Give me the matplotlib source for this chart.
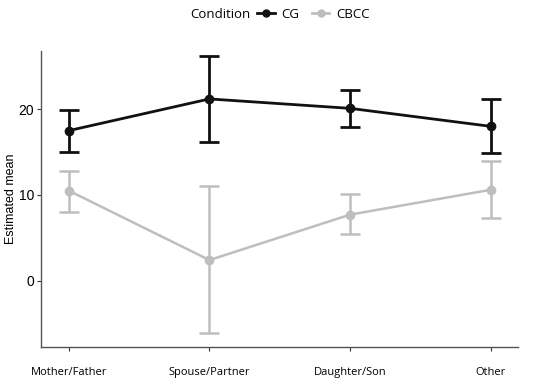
import numpy as np
import matplotlib
matplotlib.use('Agg')
import matplotlib.pyplot as plt
from matplotlib.lines import Line2D

categories = ['Mother/Father', 'Spouse/Partner', 'Daughter/Son', 'Other']

cg_mean = [17.5, 21.2, 20.1, 18.0]
cg_low = [15.0, 16.2, 17.9, 14.9]
cg_high = [19.9, 26.2, 22.3, 21.2]

cbcc_mean = [10.5, 2.4, 7.7, 10.6]
cbcc_low = [8.0, -6.1, 5.4, 7.3]
cbcc_high = [12.8, 11.0, 10.1, 14.0]

fig = plt.figure(figsize=(5.5, 3.83), dpi=100)
ax = fig.add_axes([0.0745, 0.095, 0.8675, 0.772])

x = np.arange(1, len(categories) + 1)
ui_font = 'Open Sans'

def draw(mean, low, high, color, lw):
    mean = np.array(mean)
    yerr = [mean - np.array(low), np.array(high) - mean]
    ax.errorbar(x, mean, yerr=yerr, color=color, lw=lw, elinewidth=lw,
                capsize=7.5, capthick=lw, marker='o', ms=6, zorder=3)

draw(cbcc_mean, cbcc_low, cbcc_high, '#bebebe', 1.8)
draw(cg_mean, cg_low, cg_high, '#111111', 2.0)

ax.set_xlim(0.803, 4.194)
ax.set_ylim(-7.7, 26.8)
ax.set_xticks(x)
ax.set_xticklabels(categories, family=ui_font, fontsize=8)
ax.set_yticks([0, 10, 20])
ax.set_yticklabels(['0', '10', '20'], family='Liberation Sans', fontsize=10)
ax.set_ylabel('Estimated mean', family='Liberation Sans', fontsize=9, labelpad=1)
ax.tick_params(axis='x', length=3, color='#333333', pad=12)
ax.tick_params(axis='y', length=3, color='#333333', pad=2)

for s in ['top', 'right']:
    ax.spines[s].set_visible(False)
for s in ['left', 'bottom']:
    ax.spines[s].set_color('#555555')
    ax.spines[s].set_linewidth(1.0)

# legend on top: title as text, entries as a legend beside it
fig.text(0.455, 0.962, 'Condition', family=ui_font, fontsize=9.5,
         ha='right', va='center')
handles = [
    Line2D([], [], color='#111111', lw=2, marker='o', ms=5),
    Line2D([], [], color='#bebebe', lw=2, marker='o', ms=5),
]
fig.legend(handles, ['CG', 'CBCC'], loc='center left',
           bbox_to_anchor=(0.468, 0.962), ncol=2, frameon=False,
           handlelength=1.3, handletextpad=0.5, columnspacing=1.0,
           borderpad=0, borderaxespad=0,
           prop={'family': ui_font, 'size': 9.5})

fig.savefig('out.png', dpi=100)
